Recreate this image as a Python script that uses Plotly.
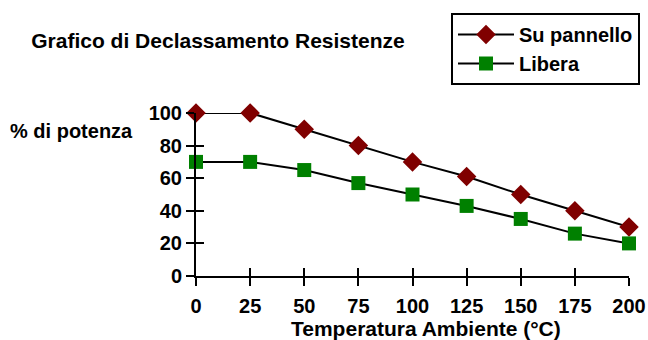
import plotly.graph_objects as go

temperature = [0, 25, 50, 75, 100, 125, 150, 175, 200]
su_pannello = [100, 100, 90, 80, 70, 61, 50, 40, 30]
libera = [70, 70, 65, 57, 50, 43, 35, 26, 20]
x_ticks = [0, 25, 50, 75, 100, 125, 150, 175, 200]
y_ticks = [0, 20, 40, 60, 80, 100]

FONT = "Liberation Sans, Arial, sans-serif"

fig = go.Figure()

fig.add_trace(go.Scatter(
    x=temperature, y=su_pannello, name="Su pannello",
    mode="lines+markers",
    line=dict(color="black", width=2),
    marker=dict(symbol="diamond", size=15, color="#800000"),
    cliponaxis=False,
))
fig.add_trace(go.Scatter(
    x=temperature, y=libera, name="Libera",
    mode="lines+markers",
    line=dict(color="black", width=2),
    marker=dict(symbol="square", size=14, color="#008000"),
    cliponaxis=False,
))

# invisible trace so the overlay axes (inner half of the crossing ticks) are drawn
fig.add_trace(go.Scatter(x=[None], y=[None], xaxis="x2", yaxis="y2", showlegend=False,
                         hoverinfo="skip"))

axis_common = dict(showgrid=False, zeroline=False, ticklen=8, tickwidth=2, tickcolor="black")

fig.update_layout(
    width=648, height=340,
    paper_bgcolor="white", plot_bgcolor="white",
    margin=dict(l=196, r=19, t=113, b=64, autoexpand=False),
    font=dict(family=FONT, size=20, color="black"),
    showlegend=True,
    title=dict(text="<b>Grafico di Declassamento Resistenze</b>", x=218 / 648, xanchor="center",
               y=1 - 41 / 340, yanchor="middle", font=dict(size=21)),
    legend=dict(xref="container", yref="container", x=451 / 648, y=1 - 13 / 340,
                xanchor="left", yanchor="top", bordercolor="black", borderwidth=2,
                font=dict(size=20, weight="bold"), tracegroupgap=0, itemwidth=56),
    xaxis=dict(range=[0, 200], tickvals=x_ticks, ticks="outside", showline=True,
               linecolor="black", linewidth=2, tickangle=0, ticklabelstandoff=3,
               tickfont=dict(size=20, weight="bold"), **axis_common),
    yaxis=dict(range=[0, 100], tickvals=y_ticks, ticks="outside", showline=True,
               linecolor="black", linewidth=2,
               tickfont=dict(size=20, weight="bold"), **axis_common),
    xaxis2=dict(overlaying="x", range=[0, 200], tickvals=x_ticks, ticks="inside",
                showticklabels=False, showline=False, side="bottom", anchor="y", **axis_common),
    yaxis2=dict(overlaying="y", range=[0, 100], tickvals=y_ticks, ticks="inside",
                showticklabels=False, showline=False, side="left", anchor="x", **axis_common),
    annotations=[
        dict(text="<b>% di potenza</b>", xref="paper", yref="paper", x=(135 - 196) / 433,
             y=(276 - 131) / 163, xanchor="right", yanchor="middle",
             showarrow=False, font=dict(size=20)),
        dict(text="<b>Temperatura Ambiente (°C)</b>", xref="paper", yref="paper",
             x=(426 - 196) / 433, y=-(328 - 276) / 163, xanchor="center", yanchor="middle",
             showarrow=False, font=dict(size=21)),
    ],
)

# the page body has a default 8px margin; remove it so the figure sits at the window corner
fig.write_html("out.html", config={"displayModeBar": False},
               post_script="document.body.style.margin='0';")
